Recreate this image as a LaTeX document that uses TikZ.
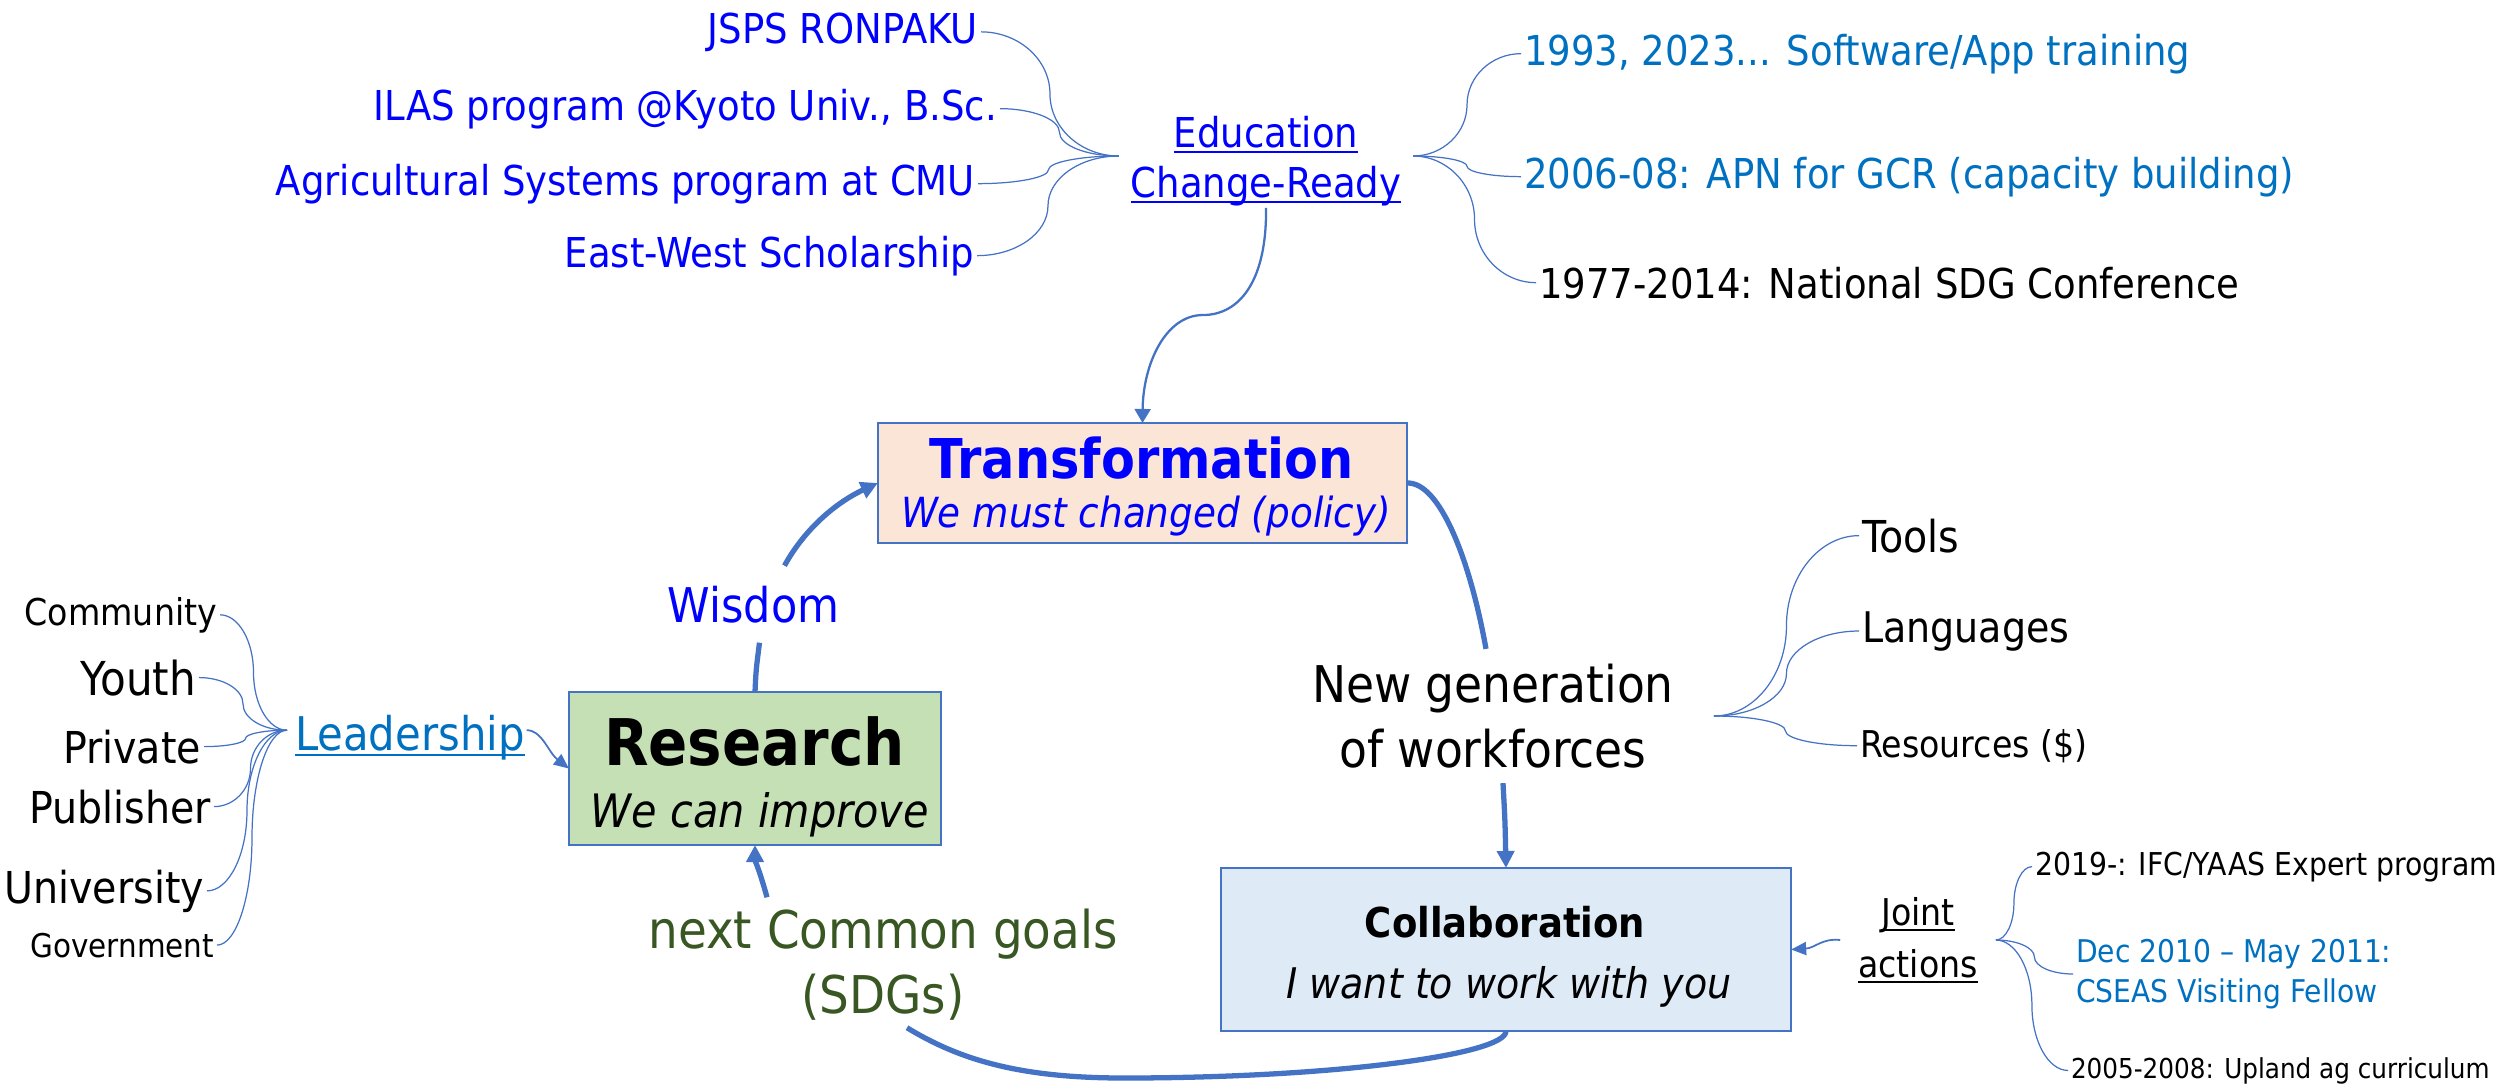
\documentclass[tikz,border=0pt]{standalone}
\usepackage{fontspec}
\setmainfont{DejaVu Sans}[FakeStretch=0.9]
\usetikzlibrary{arrows.meta,calc}
\definecolor{lineblue}{HTML}{4472C4}
\definecolor{pureblue}{HTML}{0000FF}
\definecolor{midblue}{HTML}{0070C0}
\definecolor{dgreen}{HTML}{385723}
\definecolor{peach}{HTML}{FBE5D6}
\definecolor{lgreen}{HTML}{C5E0B4}
\definecolor{lblue}{HTML}{DEEBF7}
\newcommand\fsz[2]{\fontsize{#1pt}{#2pt}\selectfont}
\newcommand\uln[1]{\setbox0\hbox{#1}\rlap{\rule[-1.7pt]{\wd0}{0.55pt}}\box0}
\begin{document}
\begin{tikzpicture}[x=0.01cm,y=-0.01cm,
  lbl/.style={inner sep=0.03cm, outer sep=0pt},
  box/.style={draw=lineblue, line width=0.6pt, inner sep=0pt, outer sep=0pt},
  branch/.style={to path={let \p1=(\tikztostart), \p2=(\tikztotarget), \p3=($(\p1)!0.5!(\p2)$) in
     .. controls ({\x1+0.275*(\x2-\x1)},\y1) and (\x3,{\y3-0.275*(\y2-\y1)}) .. (\p3)
     .. controls (\x3,{\y3+0.275*(\y2-\y1)}) and ({\x2-0.275*(\x2-\x1)},\y2) .. (\tikztotarget) \tikztonodes}},
  br/.style={draw=lineblue, line width=0.35pt},
  conn/.style={draw=lineblue, line width=1.5pt},
  tipbig/.style={-{Triangle[length=0.17cm,width=0.17cm]}},
  tipsmall/.style={-{Triangle[length=0.15cm,width=0.13cm]}}]
\useasboundingbox (0,0) rectangle (2509,1084);

% ---------- Education block ----------
\node[lbl, anchor=base east, text=pureblue, font=\fsz{11.7}{14}] (jsps) at (981,43) {JSPS RONPAKU};
\node[lbl, anchor=base east, text=pureblue, font=\fsz{11.7}{14}] (ilas) at (1000,120) {ILAS program @Kyoto Univ., B.Sc.};
\node[lbl, anchor=base east, text=pureblue, font=\fsz{11.7}{14}] (agri) at (978,195) {Agricultural Systems program at CMU};
\node[lbl, anchor=base east, text=pureblue, font=\fsz{11.7}{14}] (ew) at (977,267) {East-West Scholarship};

\node[lbl, inner xsep=0.12cm, inner ysep=0.02cm, align=center, text=pureblue, font=\fsz{11.7}{14.2}] (edu) at (1266,161) {\uln{Education}\\\uln{Change-Ready}};
\coordinate (eduL) at ($(edu.west)+(0,-5)$);
\coordinate (eduR) at ($(edu.east)+(0,-5)$);

\node[lbl, anchor=base west, text=midblue, font=\fsz{11.7}{14}] (sw) at (1521,65) {1993, 2023... Software/App training};
\node[lbl, anchor=base west, text=midblue, font=\fsz{11.7}{14}] (apn) at (1521,188) {2006-08: APN for GCR (capacity building)};
\node[lbl, anchor=base west, font=\fsz{11.7}{14}] (nsdg) at (1536,298) {1977-2014: National SDG Conference};

\draw[br] (jsps.east) to[branch] (eduL);
\draw[br] (ilas.east) to[branch] (eduL);
\draw[br] (agri.east) to[branch] (eduL);
\draw[br] (ew.east) to[branch] (eduL);
\draw[br] (eduR) to[branch] (sw.west);
\draw[br] (eduR) to[branch] (apn.west);
\draw[br] (eduR) to[branch] (nsdg.west);

% ---------- Boxes ----------
\node[box, fill=peach, minimum width=5.29cm, minimum height=1.2cm] (trans) at (1142.5,483) {};
\node[lbl, anchor=base, text=pureblue, font=\bfseries\fsz{15.6}{18}] (transT) at (1141.5,478) {Transformation};
\node[lbl, anchor=base, text=pureblue, font=\itshape\fsz{11.8}{15}] (transS) at (1146,527) {We must changed (policy)};

\node[box, fill=lgreen, minimum width=3.72cm, minimum height=1.53cm] (research) at (755,768.5) {};
\node[lbl, anchor=base, font=\bfseries\fsz{18.3}{22}] (researchT) at (754.5,765) {Research};
\node[lbl, anchor=base, font=\itshape\fsz{13.1}{16}] (researchS) at (760,827) {We can improve};

\node[box, fill=lblue, minimum width=5.70cm, minimum height=1.63cm] (collab) at (1506,949.5) {};
\node[lbl, anchor=base, font=\bfseries\fsz{11.7}{14}] (collabT) at (1505,937) {Collaboration};
\node[lbl, anchor=base, font=\itshape\fsz{12}{14}] (collabS) at (1509,998) {I want to work with you};

% ---------- Cycle labels ----------
\node[lbl, inner ysep=0.2cm, anchor=base, text=pureblue, font=\fsz{13.6}{17}] (wisdom) at (753.5,622) {Wisdom};
\node[lbl, inner xsep=0.4cm, inner ysep=0.15cm, align=center, font=\fsz{14.4}{18.5}] (newgen) at (1493,716) {New generation\\of workforces};
\node[lbl, inner ysep=0.12cm, align=center, text=dgreen, font=\fsz{14.8}{18.5}] (sdg) at (883,965) {next Common goals\\(SDGs)};

% ---------- Cycle connectors ----------
\draw[lineblue, line width=0.65pt, -{Triangle[length=0.14cm,width=0.16cm]}] (edu.south) .. controls (1267,280) and (1240,315) .. (1203,315) .. controls (1165,315) and (1143,365) .. (trans.north);
\draw[conn] (trans.east) .. controls (1440,482) and (1470,560) .. ($(newgen.north)+(-7,0)$);
\draw[conn, tipbig] ($(newgen.south)+(10,0)$) .. controls (1505,820) .. (collab.north);
\draw[conn] (collab.south) .. controls (1506,1055) and (1330,1078) .. (1124,1078) .. controls (1020,1078) and (960,1060) .. ($(sdg.south)+(24,-5)$);
\draw[conn, tipbig] ($(sdg.north)+(-116,0)$) .. controls (760,872) and (755,860) .. (research.south);
\draw[conn] (research.north) .. controls (756,670) .. ($(wisdom.south)+(6,0)$);
\draw[conn, tipbig] ($(wisdom.north)+(31,0)$) .. controls (804,530) and (835,503) .. (trans.west);

% ---------- Tools ----------
\node[lbl, anchor=base west, font=\fsz{12.5}{15}] (tools) at (1859,552) {Tools};
\node[lbl, anchor=base west, font=\fsz{12}{15}] (lang) at (1859,642) {Languages};
\node[lbl, anchor=base west, font=\fsz{10.5}{13}] (res) at (1857,757) {Resources (\$)};
\draw[br] (newgen.east) to[branch] (tools.west);
\draw[br] (newgen.east) to[branch] (lang.west);
\draw[br] (newgen.east) to[branch] (res.west);

% ---------- Leadership ----------
\node[lbl, inner xsep=0.08cm, anchor=base west, text=midblue, font=\fsz{13.2}{16}] (lead) at (287,750) {\uln{Leadership}};
\coordinate (leadL) at ($(lead.west)+(0,-7)$);
\node[lbl, anchor=base east, font=\fsz{10.5}{13}] (comm) at (220,625) {Community};
\node[lbl, anchor=base east, font=\fsz{13.3}{15}] (youth) at (199,695) {Youth};
\node[lbl, anchor=base east, font=\fsz{12.5}{15}] (priv) at (204,763) {Private};
\node[lbl, anchor=base east, font=\fsz{12.5}{15}] (pub) at (214,823) {Publisher};
\node[lbl, anchor=base east, font=\fsz{12.5}{15}] (univ) at (207,903) {University};
\node[lbl, anchor=base east, font=\fsz{9.3}{11}] (gov) at (217,957) {Government};
\foreach \n in {comm,youth,priv,pub,univ,gov}{\draw[br] (\n.east) to[branch] (leadL);}
\draw[lineblue, line width=0.5pt, tipsmall] ($(lead.east)+(-6,-7)$) .. controls (542,730) and (548,752) .. (research.west);

% ---------- Joint actions ----------
\node[lbl, inner xsep=0.18cm, align=center, font=\fsz{10.5}{14.8}] (joint) at (1918,940) {\uln{Joint}\\\uln{actions}};
\draw[lineblue, line width=0.5pt, tipsmall] (joint.west) .. controls (1822,938) and (1815,948) .. (collab.east);
\node[lbl, anchor=base west, font=\fsz{8.95}{11}] (ifc) at (2032,875) {2019-: IFC/YAAS Expert program};
\node[lbl, anchor=west, align=left, text=midblue, font=\fsz{8.9}{11.4}] (cseas) at (2073,974) {Dec 2010 – May 2011:\\CSEAS Visiting Fellow};
\node[lbl, anchor=base west, font=\fsz{7.8}{10}] (upland) at (2068,1078) {2005-2008: Upland ag curriculum};
\draw[br] (joint.east) to[branch] (ifc.west);
\draw[br] (joint.east) to[branch] (cseas.west);
\draw[br] (joint.east) to[branch] (upland.west);
\end{tikzpicture}
\end{document}
